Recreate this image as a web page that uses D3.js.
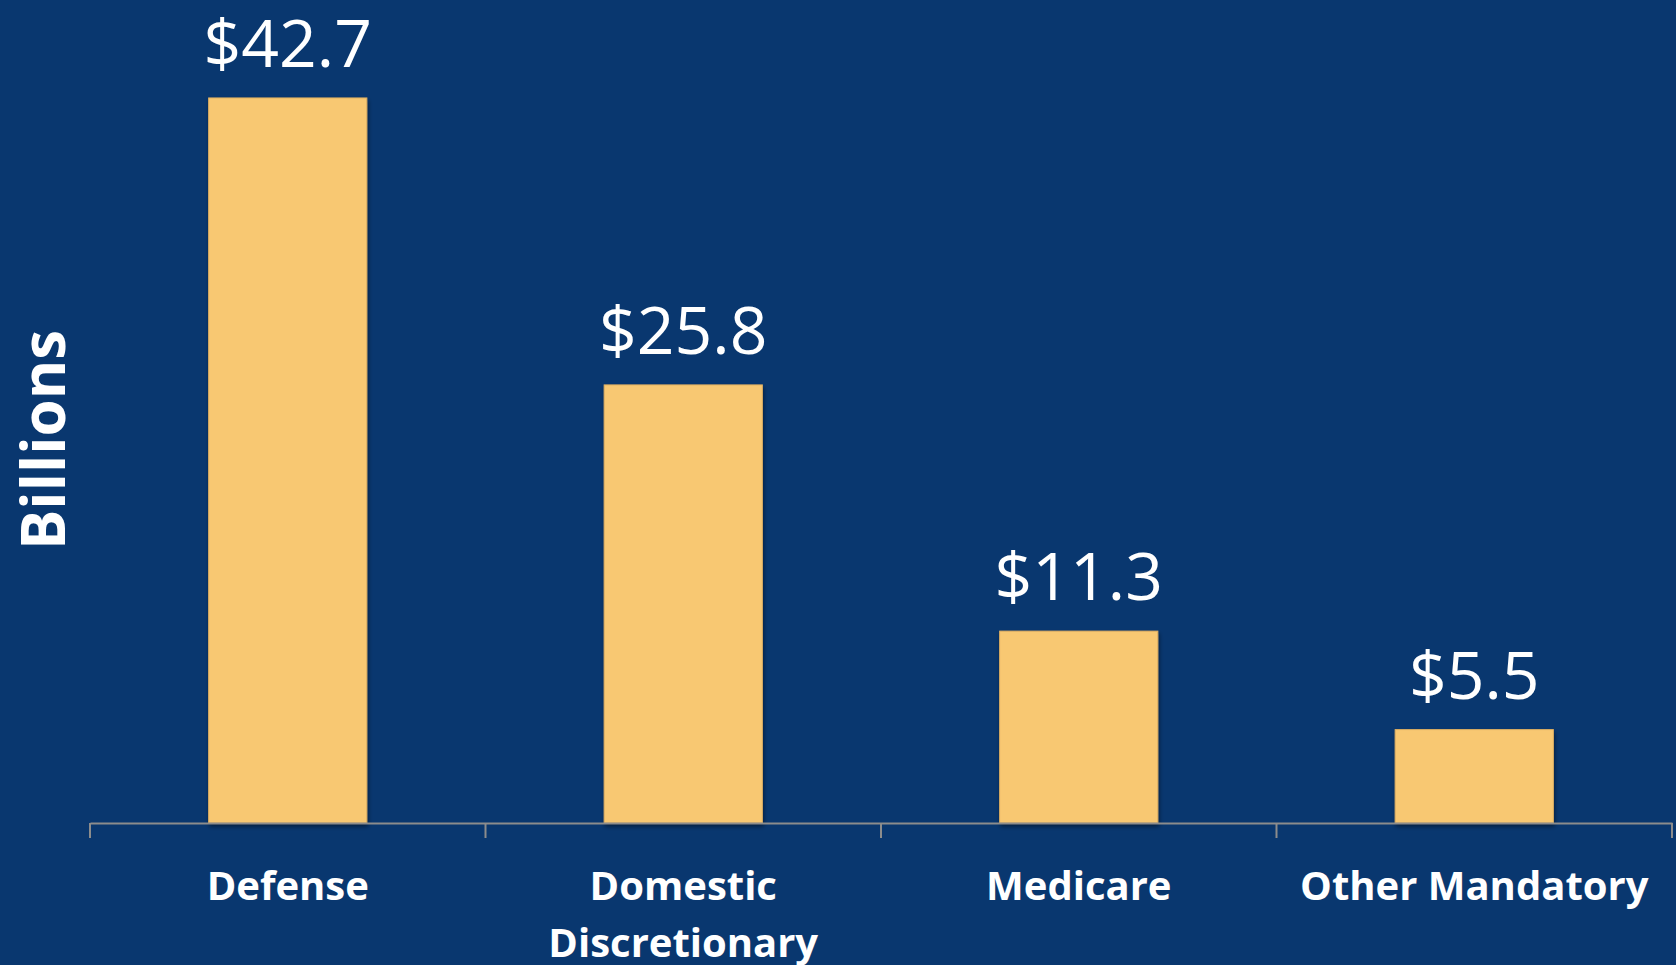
<!DOCTYPE html>
<html>
<head>
<meta charset="utf-8">
<script src="https://cdn.jsdelivr.net/npm/d3@7"></script>
<style>
  html, body { margin: 0; padding: 0; background: #09376f; overflow: hidden; }
  svg { display: block; }
</style>
</head>
<body>
<svg id="chart" width="1676" height="965"></svg>
<script>
const categories = ["Defense", "Domestic\nDiscretionary", "Medicare", "Other Mandatory"];
const values = [42.7, 25.8, 11.3, 5.5];
const valueLabels = ["$42.7", "$25.8", "$11.3", "$5.5"];
const axisTitle = "Billions";

const W = 1676, H = 965;
const svg = d3.select("#chart");
svg.append("rect").attr("width", W).attr("height", H).attr("fill", "#09376f");

const x = d3.scaleBand().domain(categories).range([90, 1672]).padding(0);
const y = d3.scaleLinear().domain([0, 45]).range([823, 823 - 45 * 16.98]);
const barW = x.bandwidth() * 0.4;

const defs = svg.append("defs");
const f = defs.append("filter").attr("id", "shadow").attr("x", "-10%").attr("y", "-10%").attr("width", "120%").attr("height", "120%");
f.append("feDropShadow").attr("dx", 1).attr("dy", 3).attr("stdDeviation", 2).attr("flood-color", "#000").attr("flood-opacity", 0.45);

// bars
svg.append("g").selectAll("rect").data(values).join("rect")
  .attr("x", (d, i) => x(categories[i]) + (x.bandwidth() - barW) / 2)
  .attr("y", d => y(d))
  .attr("width", barW)
  .attr("height", d => y(0) - y(d))
  .attr("fill", "#f8c872")
  .attr("stroke", "#e0b062")
  .attr("stroke-width", 1)
  .attr("filter", "url(#shadow)");

// axis
const axis = d3.axisBottom(x).tickSize(15).tickSizeOuter(0).tickFormat("");
const gx = svg.append("g").attr("transform", `translate(0,${y(0)})`).call(axis);
gx.select(".domain").attr("stroke", "#8c8c8c").attr("stroke-width", 2);
gx.selectAll(".tick").remove();
const bounds = categories.map(c => x(c)).concat([x.range()[1]]);
gx.selectAll(".bound").data(bounds).join("line")
  .attr("x1", d => d).attr("x2", d => d).attr("y1", 0).attr("y2", 15)
  .attr("stroke", "#8c8c8c").attr("stroke-width", 2);

// value labels
svg.append("g").selectAll("text").data(values).join("text")
  .attr("x", (d, i) => x(categories[i]) + x.bandwidth() / 2)
  .attr("y", d => y(d) - 31)
  .attr("text-anchor", "middle")
  .attr("fill", "#ffffff")
  .attr("font-family", "'Open Sans', sans-serif")
  .attr("font-size", 66)
  .text((d, i) => valueLabels[i]);

// category labels
const cl = svg.append("g").selectAll("text").data(categories).join("text")
  .attr("x", d => x(d) + x.bandwidth() / 2)
  .attr("y", 900)
  .attr("text-anchor", "middle")
  .attr("fill", "#ffffff")
  .attr("font-family", "'Open Sans', sans-serif")
  .attr("font-weight", "bold")
  .attr("font-size", 40);
cl.each(function(d) {
  const lines = d.split("\n");
  const t = d3.select(this);
  lines.forEach((ln, i) => {
    t.append("tspan").attr("x", x(d) + x.bandwidth() / 2).attr("dy", i === 0 ? 0 : 57).text(ln);
  });
});

// axis title
svg.append("text")
  .attr("transform", "translate(65,440) rotate(-90)")
  .attr("text-anchor", "middle")
  .attr("fill", "#ffffff")
  .attr("font-family", "'Open Sans', sans-serif")
  .attr("font-weight", "bold")
  .attr("font-size", 60)
  .text(axisTitle);
</script>
</body>
</html>
